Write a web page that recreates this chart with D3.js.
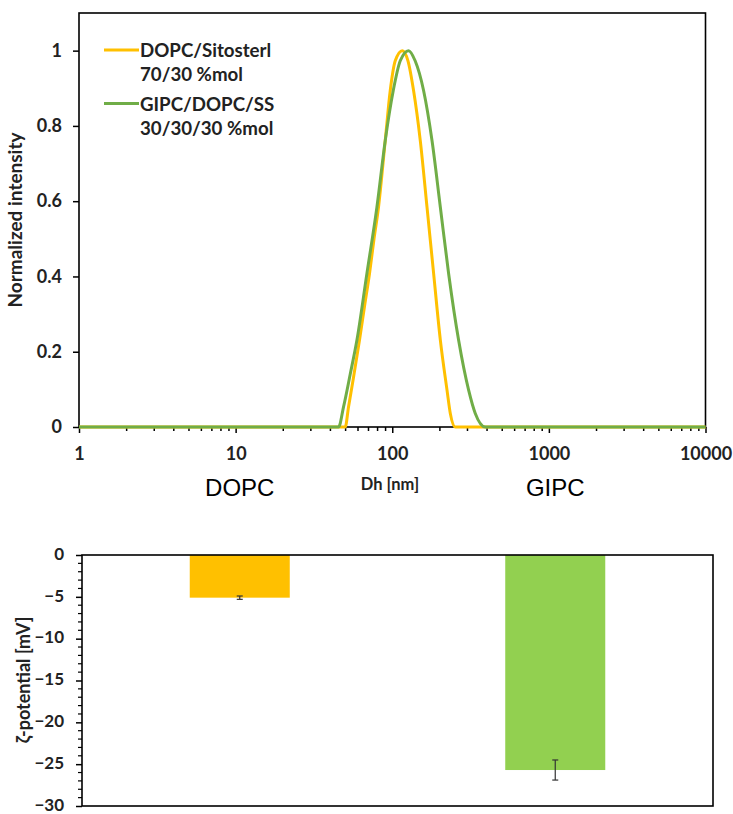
<!DOCTYPE html>
<html>
<head>
<meta charset="utf-8">
<script src="https://cdn.jsdelivr.net/npm/d3@7"></script>
<style>
  html, body { margin: 0; padding: 0; background: #fff; }
  svg { display: block; }
</style>
</head>
<body>
<svg id="fig" width="733" height="814"></svg>
<script>
// ---- Size distribution (DLS): hydrodynamic diameter [nm] vs normalized intensity ----
const sizesDopc = [1, 50.1, 52.6, 56.5, 61.8, 66.5, 71.6, 76.5, 81.7, 90.2, 97.1, 104.5, 116, 126, 136.8, 151, 166.7, 183.7, 202.8, 223.7, 234.8, 252.7, 10000];
const intensityDopc = [0, 0, 0.054, 0.13, 0.231, 0.32, 0.408, 0.5, 0.584, 0.761, 0.894, 0.973, 1, 0.973, 0.894, 0.761, 0.584, 0.408, 0.231, 0.098, 0.036, 0, 0];
const sizesGipc = [1, 45.4, 48.9, 53.9, 59.5, 68.9, 79.8, 90.2, 101.5, 112.5, 127.1, 140, 158.5, 179.4, 202.8, 229, 265.2, 307.4, 339, 392.9, 10000];
const intensityGipc = [0, 0, 0.054, 0.14, 0.231, 0.408, 0.584, 0.761, 0.894, 0.973, 1, 0.973, 0.894, 0.761, 0.584, 0.408, 0.231, 0.098, 0.036, 0, 0];
const legendLines = [["DOPC/Sitosterl", "70/30 %mol"], ["GIPC/DOPC/SS", "30/30/30 %mol"]];
const sizeDecades = [1, 10, 100, 1000, 10000];
const intensityTicks = [0, 0.2, 0.4, 0.6, 0.8, 1];

// ---- Zeta potential ----
const categories = ["DOPC", "GIPC"];
const zetaValues = [-5.1, -25.7];
const zetaErrors = [0.2, 1.2];
const zetaTicks = [0, -5, -10, -15, -20, -25, -30];

const svg = d3.select("#fig");
const font = "Lato, 'Open Sans', sans-serif";
const lineColors = ["#FFC000", "#70AD47"];
const barColors = ["#FFC000", "#92D050"];

// ================= Top panel: size distribution =================
const P = { left: 79, right: 705.5, top: 13, bottom: 427 };
const x = d3.scaleLog().domain([1, 10000]).range([P.left, P.right]);
const y = d3.scaleLinear().domain([0, 1.1]).range([P.bottom, P.top]);
const isDecade = d => Math.abs(Math.log10(d) - Math.round(Math.log10(d))) < 1e-9;

// frame
svg.append("rect")
  .attr("x", P.left).attr("y", P.top)
  .attr("width", P.right - P.left).attr("height", P.bottom - P.top)
  .attr("fill", "none").attr("stroke", "#000").attr("stroke-width", 1.6);

// x axis (log, minor ticks every unit)
const gx = svg.append("g").attr("transform", `translate(0,${P.bottom})`)
  .call(d3.axisBottom(x).tickValues(x.ticks()).tickSize(4).tickPadding(16)
    .tickFormat(d => isDecade(d) && sizeDecades.includes(Math.round(d)) ? String(Math.round(d)) : ""));
gx.select(".domain").remove();
gx.selectAll(".tick line").attr("stroke", "#000").attr("stroke-width", 1.5)
  .attr("y2", d => isDecade(d) ? 6 : 4);
gx.selectAll(".tick text").attr("font-family", font).attr("font-weight", 700)
  .attr("font-size", 18).attr("fill", "#222");

// y axis
const gy = svg.append("g").attr("transform", `translate(${P.left},0)`)
  .call(d3.axisLeft(y).tickValues(intensityTicks).tickSize(6).tickPadding(11).tickFormat(d3.format("~g")));
gy.select(".domain").remove();
gy.selectAll(".tick line").attr("stroke", "#000").attr("stroke-width", 1.5);
gy.selectAll(".tick text").attr("font-family", font).attr("font-weight", 700)
  .attr("font-size", 18).attr("fill", "#222");

// axis titles
svg.append("text")
  .attr("transform", "translate(22,220) rotate(-90)")
  .attr("text-anchor", "middle")
  .attr("font-family", font).attr("font-weight", 700).attr("font-size", 19).attr("fill", "#222")
  .text("Normalized intensity");
svg.append("text")
  .attr("x", 390).attr("y", 490).attr("text-anchor", "middle")
  .attr("font-family", font).attr("font-weight", 700).attr("font-size", 16.5).attr("fill", "#222")
  .text("Dh [nm]");

// distribution curves
const curve = d3.line().x(d => x(d[0])).y(d => y(d[1])).curve(d3.curveMonotoneX);
const series = [
  d3.zip(sizesDopc, intensityDopc),
  d3.zip(sizesGipc, intensityGipc)
];
svg.append("g").selectAll("path").data(series).join("path")
  .attr("d", curve)
  .attr("fill", "none")
  .attr("stroke", (d, i) => lineColors[i])
  .attr("stroke-width", 3)
  .attr("stroke-linejoin", "round");

// legend
const legend = svg.append("g").attr("font-family", font).attr("font-weight", 700)
  .attr("font-size", 18.7).attr("fill", "#222");
legendLines.forEach((lines, i) => {
  const y0 = 50 + i * 53.5;
  legend.append("line")
    .attr("x1", 104).attr("x2", 139).attr("y1", y0).attr("y2", y0)
    .attr("stroke", lineColors[i]).attr("stroke-width", 3);
  lines.forEach((t, j) => {
    legend.append("text").attr("x", 140).attr("y", y0 + 7 + j * 24).text(t);
  });
});

// ================= Bottom panel: zeta potential =================
const Q = { left: 82, right: 713, top: 555, bottom: 806 };
const yz = d3.scaleLinear().domain([-30, 0]).range([Q.bottom, Q.top]);
const xb = d3.scaleBand().domain(categories).range([Q.left, Q.right])
  .paddingInner(0.683).paddingOuter(0.3415);

// bars
svg.append("g").selectAll("rect").data(categories).join("rect")
  .attr("x", c => xb(c))
  .attr("width", xb.bandwidth())
  .attr("y", yz(0))
  .attr("height", (c, i) => yz(zetaValues[i]) - yz(0))
  .attr("fill", (c, i) => barColors[i]);

// error bars
const eb = svg.append("g").attr("stroke", "#333").attr("stroke-width", 1.2);
categories.forEach((c, i) => {
  const cx = xb(c) + xb.bandwidth() / 2;
  const y1 = yz(zetaValues[i] + zetaErrors[i]);
  const y2 = yz(zetaValues[i] - zetaErrors[i]);
  eb.append("line").attr("x1", cx).attr("x2", cx).attr("y1", y1).attr("y2", y2);
  eb.append("line").attr("x1", cx - 3).attr("x2", cx + 3).attr("y1", y1).attr("y2", y1);
  eb.append("line").attr("x1", cx - 3).attr("x2", cx + 3).attr("y1", y2).attr("y2", y2);
});

// frame
svg.append("rect")
  .attr("x", Q.left).attr("y", Q.top)
  .attr("width", Q.right - Q.left).attr("height", Q.bottom - Q.top)
  .attr("fill", "none").attr("stroke", "#000").attr("stroke-width", 1.6);

// category labels, set above the panel
const gc = svg.append("g").attr("transform", `translate(0,${Q.top})`)
  .call(d3.axisTop(xb).tickSize(0).tickPadding(59));
gc.select(".domain").remove();
gc.selectAll(".tick text").attr("font-family", "'Liberation Sans', Arial, sans-serif")
  .attr("font-size", 24).attr("fill", "#000");

// y axis with minor ticks
const gz = svg.append("g").attr("transform", `translate(${Q.left},0)`)
  .call(d3.axisLeft(yz).tickValues(zetaTicks).tickSize(6).tickPadding(12).tickFormat(d3.format("d")));
gz.select(".domain").remove();
gz.selectAll(".tick line").attr("stroke", "#000").attr("stroke-width", 1.5);
gz.selectAll(".tick text").attr("font-family", font).attr("font-weight", 700)
  .attr("font-size", 17).attr("dy", "0.25em").attr("fill", "#222");
gz.append("g").selectAll("line")
  .data(yz.ticks(30).filter(v => v % 5 !== 0))
  .join("line")
  .attr("x1", -4).attr("x2", 0)
  .attr("y1", v => yz(v)).attr("y2", v => yz(v))
  .attr("stroke", "#000").attr("stroke-width", 1.2);

svg.append("text")
  .attr("transform", "translate(30,680) rotate(-90)")
  .attr("text-anchor", "middle")
  .attr("font-family", font).attr("font-weight", 700).attr("font-size", 18).attr("fill", "#222")
  .text("ζ-potential [mV]");
</script>
</body>
</html>
